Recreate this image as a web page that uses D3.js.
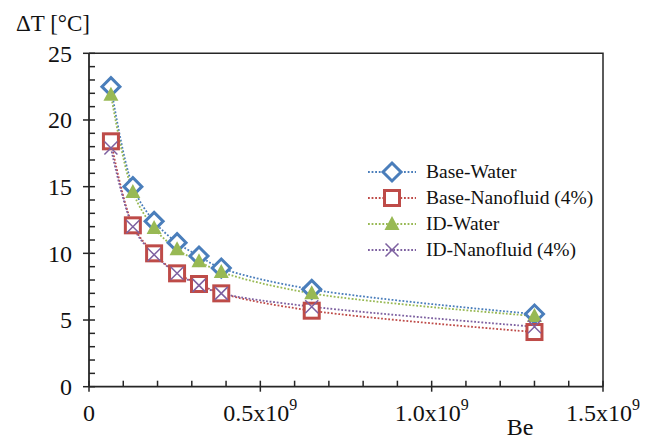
<!DOCTYPE html>
<html>
<head>
<meta charset="utf-8">
<script src="https://cdn.jsdelivr.net/npm/d3@7"></script>
<style>
  html, body { margin: 0; padding: 0; background: #fff; }
  svg { display: block; }
  svg text { font-family: "Liberation Serif", "Times New Roman", "DejaVu Serif", serif; }
</style>
</head>
<body>
<svg id="chart" width="659" height="439" font-family="Liberation Serif, Times New Roman, DejaVu Serif, serif"></svg>
<script>
// Bejan number (x) and temperature difference ΔT (°C) for each configuration
const beValues = [0.064e9, 0.128e9, 0.19e9, 0.257e9, 0.321e9, 0.386e9, 0.65e9, 1.3e9];
const baseWater = [22.5, 15.0, 12.4, 10.8, 9.8, 8.9, 7.3, 5.45];
const baseNano  = [18.4, 12.1, 10.0, 8.5, 7.7, 7.0, 5.7, 4.1];
const idWater   = [21.9, 14.6, 11.9, 10.3, 9.4, 8.6, 7.0, 5.3];
const idNano    = [17.9, 12.0, 9.9, 8.5, 7.6, 7.0, 6.0, 4.5];

const seriesNames = ["Base-Water", "Base-Nanofluid (4%)", "ID-Water", "ID-Nanofluid (4%)"];
const yTicks = [0, 5, 10, 15, 20, 25];
const xTicks = [0, 0.5e9, 1.0e9, 1.5e9];
const xTickMantissa = ["0", "0.5", "1.0", "1.5"];

const series = [
  { name: seriesNames[0], values: baseWater, color: "#4A7EBB", marker: "diamond" },
  { name: seriesNames[1], values: baseNano,  color: "#BE4B48", marker: "square" },
  { name: seriesNames[2], values: idWater,   color: "#98B954", marker: "triangle" },
  { name: seriesNames[3], values: idNano,    color: "#7D60A0", marker: "cross" }
];

const svg = d3.select("#chart");
const plotLeft = 89, plotRight = 603, plotTop = 53.3, plotBottom = 386.7;

const x = d3.scaleLinear().domain([0, 1.5e9]).range([plotLeft, plotRight]);
const y = d3.scaleLinear().domain([0, 25]).range([plotBottom, plotTop]);

const axisColor = "#262626";

// plot frame (top and right edges)
svg.append("path")
  .attr("d", `M${plotLeft},${plotTop}H${plotRight}V${plotBottom}`)
  .attr("fill", "none").attr("stroke", axisColor).attr("stroke-width", 1.5);

// y axis: major ticks cross the line, minor ticks point inward
const gy = svg.append("g");
gy.append("line").attr("x1", plotLeft).attr("x2", plotLeft).attr("y1", plotTop).attr("y2", plotBottom)
  .attr("stroke", axisColor).attr("stroke-width", 1.8);
gy.selectAll("line.minor").data(d3.range(0, 26).filter(v => v % 5 !== 0)).join("line")
  .attr("class", "minor")
  .attr("x1", plotLeft).attr("x2", plotLeft + 6)
  .attr("y1", d => y(d)).attr("y2", d => y(d))
  .attr("stroke", axisColor).attr("stroke-width", 1.5);
gy.selectAll("line.major").data(yTicks).join("line")
  .attr("class", "major")
  .attr("x1", plotLeft - 6).attr("x2", plotLeft + 6)
  .attr("y1", d => y(d)).attr("y2", d => y(d))
  .attr("stroke", axisColor).attr("stroke-width", 1.5);
gy.selectAll("text").data(yTicks).join("text")
  .attr("x", plotLeft - 17).attr("y", d => y(d))
  .attr("dy", "0.35em")
  .attr("text-anchor", "end")
  .attr("font-size", 24).attr("fill", "#111")
  .text(d => d);

// x axis
const gx = svg.append("g");
gx.append("line").attr("x1", plotLeft).attr("x2", plotRight).attr("y1", plotBottom).attr("y2", plotBottom)
  .attr("stroke", axisColor).attr("stroke-width", 1.8);
gx.selectAll("line.minor").data(d3.range(1, 15).filter(i => i % 5 !== 0).map(i => i * 0.1e9)).join("line")
  .attr("class", "minor")
  .attr("x1", d => x(d)).attr("x2", d => x(d))
  .attr("y1", plotBottom - 6).attr("y2", plotBottom)
  .attr("stroke", axisColor).attr("stroke-width", 1.5);
gx.selectAll("line.major").data(xTicks).join("line")
  .attr("class", "major")
  .attr("x1", d => x(d)).attr("x2", d => x(d))
  .attr("y1", plotBottom - 6).attr("y2", plotBottom + 5)
  .attr("stroke", axisColor).attr("stroke-width", 1.5);
const xLabels = gx.selectAll("text").data(xTicks).join("text")
  .attr("x", d => x(d)).attr("y", 421)
  .attr("text-anchor", "middle")
  .attr("font-size", 24).attr("fill", "#111");
xLabels.each(function(d, i) {
  const t = d3.select(this);
  if (d === 0) { t.text("0"); return; }
  t.append("tspan").text(xTickMantissa[i] + "x10");
  t.append("tspan").attr("dy", -11).attr("font-size", 16).text("9");
});

// axis titles
svg.append("text").attr("x", 16).attr("y", 31)
  .attr("font-size", 23).attr("fill", "#111").text("ΔT [°C]");
svg.append("text").attr("x", 520).attr("y", 435)
  .attr("text-anchor", "middle")
  .attr("font-size", 24).attr("fill", "#111").text("Be");

// marker drawing
function drawMarker(g, type, color) {
  if (type === "diamond") {
    g.append("path").attr("d", "M0,-9L9,0L0,9L-9,0Z")
      .attr("fill", "#fff").attr("stroke", color).attr("stroke-width", 3);
  } else if (type === "square") {
    g.append("rect").attr("x", -7.5).attr("y", -7.5).attr("width", 15).attr("height", 15)
      .attr("fill", "#fff").attr("stroke", color).attr("stroke-width", 3);
  } else if (type === "triangle") {
    g.append("path").attr("d", "M0,-8L7.5,6L-7.5,6Z").attr("fill", color);
  } else {
    g.append("path").attr("d", "M-6.5,-6.5L6.5,6.5M-6.5,6.5L6.5,-6.5")
      .attr("stroke", color).attr("stroke-width", 1.5).attr("fill", "none");
  }
}

const line = d3.line()
  .x((d, i) => x(beValues[i]))
  .y(d => y(d))
  .curve(d3.curveCatmullRom.alpha(0.5));

// smoothed dotted connecting lines
series.forEach(s => {
  svg.append("path").datum(s.values)
    .attr("d", line)
    .attr("fill", "none")
    .attr("stroke", s.color)
    .attr("stroke-width", 1.8)
    .attr("stroke-dasharray", "1.8,1.8");
});

// markers
series.forEach(s => {
  s.values.forEach((v, i) => {
    const g = svg.append("g").attr("transform", `translate(${x(beValues[i])},${y(v)})`);
    drawMarker(g, s.marker, s.color);
  });
});

// legend
const legend = svg.append("g").attr("transform", "translate(368,172)");
series.forEach((s, i) => {
  const row = legend.append("g").attr("transform", `translate(0,${i * 26})`);
  row.append("line").attr("x1", 0).attr("x2", 48).attr("y1", 0).attr("y2", 0)
    .attr("stroke", s.color).attr("stroke-width", 1.8).attr("stroke-dasharray", "1.8,1.8");
  drawMarker(row.append("g").attr("transform", "translate(24,0)"), s.marker, s.color);
  row.append("text").attr("x", 58).attr("y", 0).attr("dy", "0.33em")
    .attr("font-size", 19.5).attr("fill", "#111").text(s.name);
});
</script>
</body>
</html>
